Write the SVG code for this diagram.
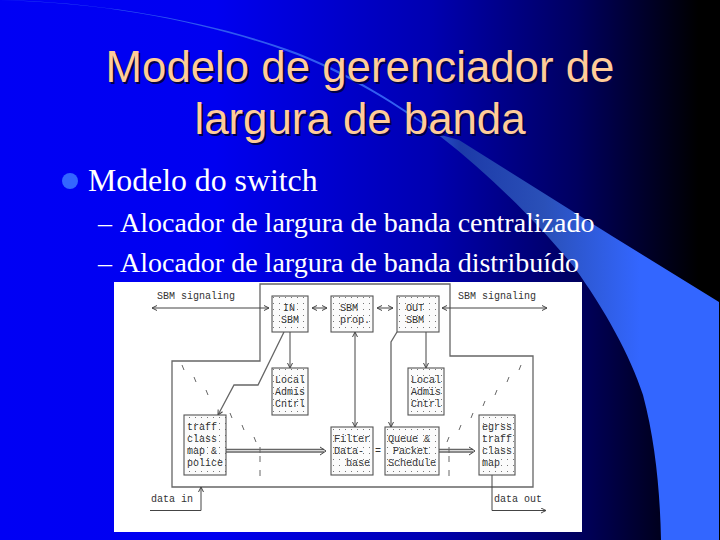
<svg xmlns="http://www.w3.org/2000/svg" width="720" height="540" viewBox="0 0 720 540">
<style>
.t{font-family:"Liberation Sans",Arial,sans-serif;font-size:43.8px;fill:#ffcc99;text-anchor:middle;text-shadow:2px 2px 0 #00004a}
.b{font-family:"Liberation Serif","Times New Roman",serif;fill:#fff}
.m{font-family:"Liberation Mono","Courier New",monospace;font-size:10px;fill:#333}
.box{fill:url(#dots);stroke:#555;stroke-width:1.1}
.l{fill:none;stroke:#444;stroke-width:1}
.c{fill:none;stroke:#666;stroke-width:1.3}
.d{fill:none;stroke:#666;stroke-width:1}
</style>
<defs>
<linearGradient id="bg" x1="0" y1="0" x2="1" y2="0">
<stop offset="0" stop-color="#0000f5"/><stop offset="0.3" stop-color="#0000f0"/><stop offset="0.6" stop-color="#0000b0"/><stop offset="0.8" stop-color="#000060"/><stop offset="0.97" stop-color="#000000"/><stop offset="1" stop-color="#000000"/>
</linearGradient>
<linearGradient id="sw" gradientUnits="userSpaceOnUse" x1="0" y1="0" x2="640" y2="0">
<stop offset="0" stop-color="#2a50f0"/><stop offset="0.65" stop-color="#3360f0"/><stop offset="0.72" stop-color="#1c3aa8"/><stop offset="0.85" stop-color="#2a50b8"/><stop offset="1" stop-color="#3366ff"/>
</linearGradient>
<pattern id="dots" patternUnits="userSpaceOnUse" width="6" height="6" x="1" y="1">
<rect width="6" height="6" fill="#fbfbfb"/><rect x="2" y="2" width="1" height="1" fill="#777"/>
</pattern>
<marker id="ah" markerWidth="7" markerHeight="7" refX="5.5" refY="3" orient="auto-start-reverse" markerUnits="userSpaceOnUse">
<path d="M0.5 0.5L5.5 3L0.5 5.5" fill="none" stroke="#444" stroke-width="1"/>
</marker>
</defs>
<rect width="720" height="540" fill="url(#bg)"/>
<path id="swoosh" d="M0 0C110 3 200 22 275 47C335 67 390 100 441 137C490 175 540 225 574 267C605 310 630 355 643 395C655 440 660 490 661 540L719 540L719 302L612 236L459 140L441 135C390 98 335 64 275 45C200 20 100 2 0 0Z" fill="url(#sw)"/>
<text class="t" x="360" y="82">Modelo de gerenciador de</text>
<text class="t" x="360" y="134">largura de banda</text>
<ellipse cx="70" cy="181" rx="8" ry="8" fill="#3366ff"/>
<text class="b" x="88" y="191" font-size="31.8">Modelo do switch</text>
<text class="b" x="98" y="232" font-size="28">–</text>
<text class="b" x="120" y="232" font-size="28">Alocador de largura de banda centralizado</text>
<text class="b" x="98" y="272" font-size="28">–</text>
<text class="b" x="120" y="272" font-size="28">Alocador de largura de banda distribuído</text>
<rect x="114" y="282" width="468" height="250" fill="#fff"/>
<g id="connectors">
<path class="c" d="M260 284H450V356H533V487H172V361H260Z"/>
<path class="l" d="M152 308H269" marker-start="url(#ah)" marker-end="url(#ah)"/>
<path class="l" d="M312 308H327" marker-start="url(#ah)" marker-end="url(#ah)"/>
<path class="l" d="M377 308H393" marker-start="url(#ah)" marker-end="url(#ah)"/>
<path class="l" d="M442 308H547" marker-start="url(#ah)" marker-end="url(#ah)"/>
<path class="l" d="M290 332V368" marker-end="url(#ah)"/>
<path class="l" d="M426 332V368" marker-end="url(#ah)"/>
<path class="l" d="M355 332V427" marker-start="url(#ah)" marker-end="url(#ah)"/>
<path class="c" d="M284 332L258 385H234L218 415" marker-end="url(#ah)"/>
<path class="c" d="M397 332L391 342V427" marker-end="url(#ah)"/>
<path class="c" d="M226 449.5H324M226 452H324"/>
<path class="l" d="M320 447L326 451L320 455"/>
<path class="c" d="M439 449.5H473M439 452H473"/>
<path class="l" d="M469 447L475 451L469 455"/>
<path class="l" d="M150 510.5H201V487" marker-end="url(#ah)" stroke-width="1.2"/>
<path class="l" d="M492 475V510.5H546" marker-end="url(#ah)" stroke-width="1.2"/>
<path class="d" d="M182 365l2 5M194 377l2 5M206 390l2 5M230 413l2 5M242 425l2 5M254 437l2 5"/>
<path class="d" d="M521 365l-2 5M509 377l-2 5M497 390l-2 5M485 401l-2 5M473 413l-2 5M461 425l-2 5M449 437l-2 5"/>
<path class="d" d="M260 447v6M260 456v6M260 470v6M449 447v6M449 456v6M449 470v6"/>
</g>
<g id="in-sbm"><rect class="box" x="272" y="296" width="36" height="36"/><text class="m" x="283" y="311">IN</text><text class="m" x="281" y="323">SBM</text></g>
<g id="sbm-prop"><rect class="box" x="331" y="296" width="42" height="36"/><text class="m" x="340" y="311">SBM</text><text class="m" x="340" y="323">prop.</text></g>
<g id="out-sbm"><rect class="box" x="397" y="296" width="42" height="36"/><text class="m" x="406" y="311">OUT</text><text class="m" x="406" y="323">SBM</text></g>
<g id="local-left"><rect class="box" x="272" y="368" width="36" height="47"/><text class="m" x="275" y="383">Local</text><text class="m" x="275" y="395">Admis</text><text class="m" x="275" y="407">Cntrl</text></g>
<g id="local-right"><rect class="box" x="408" y="368" width="36" height="47"/><text class="m" x="411" y="383">Local</text><text class="m" x="411" y="395">Admis</text><text class="m" x="411" y="407">Cntrl</text></g>
<g id="traff"><rect class="box" x="184" y="415" width="42" height="60"/><text class="m" x="187" y="430">traff</text><text class="m" x="187" y="442">class</text><text class="m" x="187" y="454">map &amp;</text><text class="m" x="187" y="466">police</text></g>
<g id="filter"><rect class="box" x="331" y="427" width="42" height="48"/><text class="m" x="334" y="442">Filter</text><text class="m" x="334" y="454">Data-</text><text class="m" x="346" y="466">base</text></g>
<g id="queue"><rect class="box" x="385" y="427" width="54" height="48"/><text class="m" x="388" y="442">Queue &amp;</text><text class="m" x="393" y="454">Packet</text><text class="m" x="388" y="466">Schedule</text></g>
<g id="egress"><rect class="box" x="479" y="415" width="36" height="60"/><text class="m" x="482" y="430">egrss</text><text class="m" x="482" y="442">traff</text><text class="m" x="482" y="454">class</text><text class="m" x="482" y="466">map</text></g>
<text class="m" x="157" y="299">SBM signaling</text>
<text class="m" x="458" y="299">SBM signaling</text>
<text class="m" x="151" y="502">data in</text>
<text class="m" x="494" y="502">data out</text>
<text class="m" x="375" y="454">=</text>
</svg>
